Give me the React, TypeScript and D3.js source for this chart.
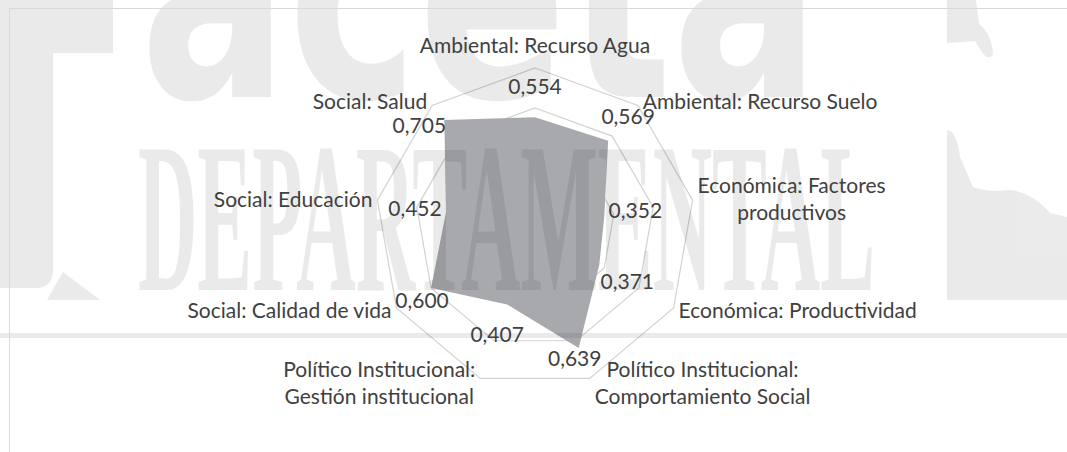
import { useEffect, useRef } from "react";
import * as d3 from "d3";

// radar categories (multi-line labels split into lines)
const categories: string[][] = [
  ["Ambiental: Recurso Agua"],
  ["Ambiental: Recurso Suelo"],
  ["Económica: Factores", "productivos"],
  ["Económica: Productividad"],
  ["Político Institucional:", "Comportamiento Social"],
  ["Político Institucional:", "Gestión institucional"],
  ["Social: Calidad de vida"],
  ["Social: Educación"],
  ["Social: Salud"],
];
const values = [0.554, 0.569, 0.352, 0.371, 0.639, 0.407, 0.6, 0.452, 0.705];
const ringTicks = [0.2, 0.4, 0.6, 0.8];

// where Excel dropped each value label, relative to its point
const valueNudge = [[0, -31], [20, -24], [31, -5], [28, 16], [-4, 10], [-10, 30], [-9, 12], [-31, -4], [-25, 5]];

const W = 1067, H = 452;
const cx = 535, cy = 228;
const font = "Lato, 'Open Sans', sans-serif";
const fontSize = 21;
const lineH = 27;
const textColor = "#404040";

const App = () => {
  const ref = useRef<SVGSVGElement>(null);

  useEffect(() => {
    const svg = d3.select(ref.current);
    svg.selectAll("*").remove();

    const n = categories.length;
    const r = d3.scaleLinear().domain([0, 0.8]).range([0, 160]);
    const angle = (i: number) => (i * 2 * Math.PI) / n;
    const px = (i: number, v: number) => cx + r(v) * Math.sin(angle(i));
    const py = (i: number, v: number) => cy - r(v) * Math.cos(angle(i));

    svg.append("rect").attr("width", W).attr("height", H).attr("fill", "#fff");

    const plot = svg.append("g").attr("transform", `translate(${cx},${cy})`);
    const radial = d3.lineRadial<number>()
      .angle((_, i) => angle(i))
      .radius(d => r(d))
      .curve(d3.curveLinearClosed);

    // grid rings
    ringTicks.forEach(t => {
      plot.append("path")
        .attr("d", radial(d3.range(n).map(() => t)))
        .attr("fill", "none")
        .attr("stroke", "#d2d2d2")
        .attr("stroke-width", 1.2);
    });

    // series
    plot.append("path")
      .attr("d", radial(values))
      .attr("fill", "#a8a9ad");

    // watermark, laid over like a faint print
    const wm = svg.append("g").attr("fill", "#000").attr("opacity", 0.08);
    wm.append("path")
      .attr("d", "M0,0 H113 V53 H53 V270 Q53,288 35,288 H0 Z M47,300 L63,272 L100,300 Z");
    wm.append("text")
      .attr("x", 140).attr("y", 97)
      .attr("font-family", "'DejaVu Sans', sans-serif")
      .attr("font-weight", "bold")
      .attr("font-size", 300)
      .attr("textLength", 680)
      .attr("lengthAdjust", "spacingAndGlyphs")
      .text("aceta");
    wm.append("text")
      .attr("x", 138).attr("y", 290)
      .attr("font-family", "'Liberation Serif', serif")
      .attr("font-weight", "bold")
      .attr("font-size", 215)
      .attr("textLength", 737)
      .attr("lengthAdjust", "spacingAndGlyphs")
      .text("DEPARTAMENTAL");
    wm.append("path")
      .attr("d", "M947,0 H976 L979,24 Q992,34 993,55 Q988,61 982,52 L975,41 L947,43 Z");
    wm.append("path")
      .attr("d", "M947,130 Q957,131 960,157 L973,187 Q990,193 1007,190 Q1030,190 1050,213 L1067,217 V300 H947 Z");
    wm.append("rect").attr("x", 0).attr("y", 333).attr("width", W).attr("height", 5);

    // frame lines
    svg.append("line").attr("x1", 9.5).attr("x2", 9.5).attr("y1", 8).attr("y2", H)
      .attr("stroke", "#d9d9d9");
    svg.append("line").attr("x1", 9).attr("x2", W).attr("y1", 8.5).attr("y2", 8.5)
      .attr("stroke", "#d9d9d9");

    // category labels
    categories.forEach((lines, i) => {
      const vx = px(i, 0.8), vy = py(i, 0.8);
      const t = svg.append("text")
        .attr("font-family", font)
        .attr("font-size", fontSize)
        .attr("fill", textColor)
        .attr("text-anchor", "middle");
      const spans = lines.map((l, k) => t.append("tspan").attr("x", 0).attr("y", k * lineH).text(l));
      const w = d3.max(spans, s => (s.node() as SVGTSpanElement).getComputedTextLength()) || 0;
      const s = Math.sin(angle(i));
      let tx: number, ty: number;
      if (Math.abs(s) < 0.01) {
        tx = vx;
        ty = vy - 15;
      } else {
        tx = s > 0 ? vx + 5 + w / 2 : vx - 5 - w / 2;
        const midY = vy - 5 * Math.cos(angle(i));
        ty = midY - ((lines.length - 1) * lineH) / 2 + 7.5;
      }
      t.attr("transform", `translate(${tx},${ty})`);
    });

    // value labels
    values.forEach((v, i) => {
      svg.append("text")
        .attr("x", px(i, v) + valueNudge[i][0])
        .attr("y", py(i, v) + valueNudge[i][1])
        .attr("dy", "0.36em")
        .attr("font-family", font)
        .attr("font-size", fontSize)
        .attr("fill", textColor)
        .attr("text-anchor", "middle")
        .text(d3.format(".3f")(v).replace(".", ","));
    });
  }, []);

  return (
    <svg ref={ref} width={W} height={H}
      style={{ position: "absolute", left: 0, top: 0, display: "block" }} />
  );
};

export default App;
